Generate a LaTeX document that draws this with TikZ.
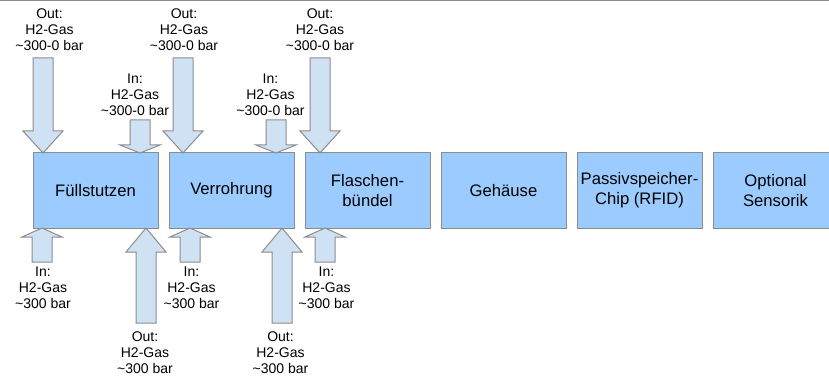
\documentclass[tikz,border=0pt]{standalone}
\usepackage{fontspec}
\setmainfont{Liberation Sans}
\usetikzlibrary{positioning}

\definecolor{boxblue}{RGB}{155,203,255}
\definecolor{arrowblue}{RGB}{207,226,243}
\definecolor{edgegray}{RGB}{140,140,140}

\tikzset{
    part/.style={draw=edgegray, fill=boxblue, line width=0.75pt, minimum width=93.75pt, minimum height=56.25pt, inner sep=0pt, align=center, font=\fontsize{12.5}{15}\selectfont},
    flow/.style={draw=edgegray, fill=arrowblue, line width=0.75pt},
    gaslabel/.style={inner sep=0pt, align=center, font=\fontsize{10.5}{12}\selectfont}
}

% block arrow: {x}{tail y}{head y}{tip y}
\newcommand{\gasarrow}[4]{%
    \filldraw[flow] (#1-10,#2) -- (#1-10,#3) -- (#1-20,#3) -- (#1,#4) -- (#1+20,#3) -- (#1+10,#3) -- (#1+10,#2) -- cycle;}

\begin{document}
\begin{tikzpicture}[x=0.75pt, y=-0.75pt, node distance=7.5pt]
    \useasboundingbox (0,0) rectangle (829,378);

    % Top rule
    \draw[edgegray, line width=0.75pt] (0,0.5) -- (829,0.5);

    % Draw the parts
    \node[part] (fuell) at (95.5,190.5) {Füllstutzen};
    \node[part, right=of fuell] (rohr) {Verrohrung};
    \node[part, right=of rohr] (flasche) {Flaschen-\\bündel};
    \node[part, right=of flasche] (gehaeuse) {Gehäuse};
    \node[part, right=of gehaeuse] (chip) {Passivspeicher-\\Chip (RFID)};
    \node[part, right=of chip] (sensor) {Optional\\Sensorik};

    % Gas flows above
    \gasarrow{43}{58}{131}{153}
    \gasarrow{140}{120}{145}{153}
    \gasarrow{183}{58}{131}{153}
    \gasarrow{276}{120}{145}{153}
    \gasarrow{320}{58}{131}{153}

    % Gas flows below
    \gasarrow{42}{262}{237}{228}
    \gasarrow{146}{323}{252}{228}
    \gasarrow{190}{262}{237}{228}
    \gasarrow{282}{323}{252}{228}
    \gasarrow{325}{262}{237}{228}

    % Annotations
    \node[gaslabel] (outtop1) at (49.5,30) {Out:\\H2-Gas\\\textasciitilde300-0 bar};
    \node[gaslabel] (outtop2) at (184,30) {Out:\\H2-Gas\\\textasciitilde300-0 bar};
    \node[gaslabel] (outtop3) at (320,30) {Out:\\H2-Gas\\\textasciitilde300-0 bar};
    \node[gaslabel] (intop1) at (135,94.5) {In:\\H2-Gas\\\textasciitilde300-0 bar};
    \node[gaslabel] (intop2) at (270.5,94.5) {In:\\H2-Gas\\\textasciitilde300-0 bar};
    \node[gaslabel] (inbot1) at (43,288) {In:\\H2-Gas\\\textasciitilde300 bar};
    \node[gaslabel] (inbot2) at (191.5,288) {In:\\H2-Gas\\\textasciitilde300 bar};
    \node[gaslabel] (inbot3) at (326.5,288) {In:\\H2-Gas\\\textasciitilde300 bar};
    \node[gaslabel] (outbot1) at (145,352.5) {Out:\\H2-Gas\\\textasciitilde300 bar};
    \node[gaslabel] (outbot2) at (280.5,352.5) {Out:\\H2-Gas\\\textasciitilde300 bar};
\end{tikzpicture}
\end{document}
